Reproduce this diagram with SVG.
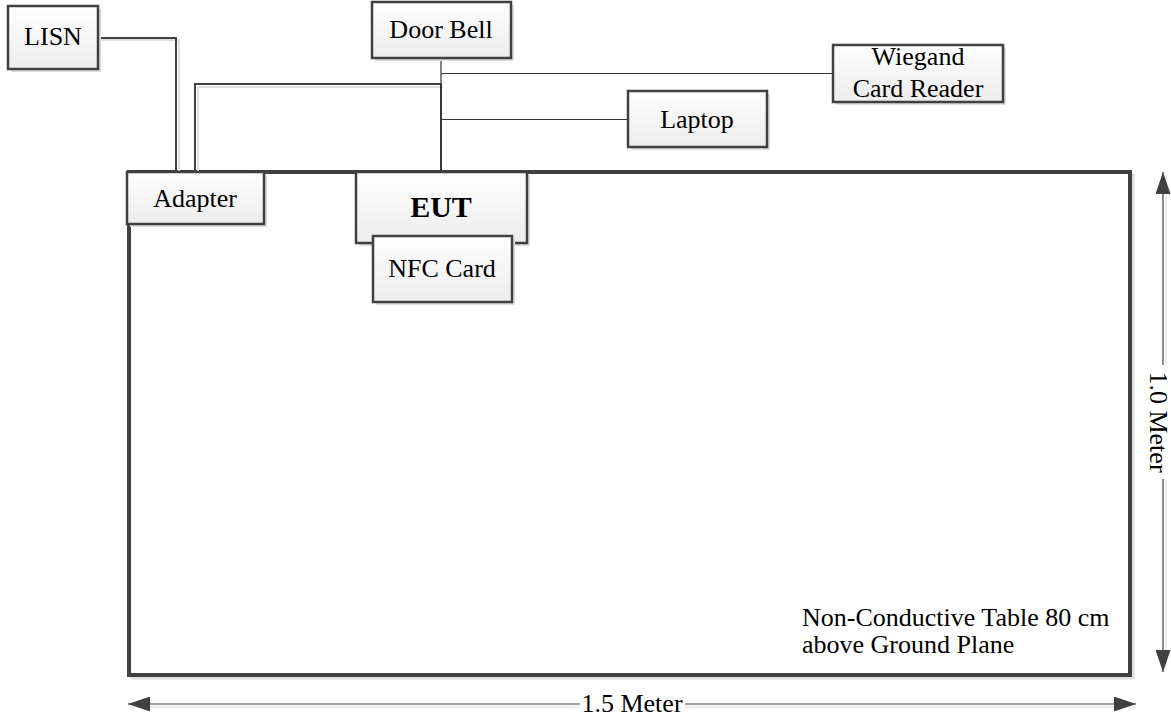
<svg xmlns="http://www.w3.org/2000/svg" width="1171" height="719" viewBox="0 0 1171 719">
<style>
.box{fill:url(#g);stroke:#404040;stroke-width:2.5}
.sh{fill:#dedede}
.t{font-family:"Liberation Serif","Times New Roman",serif;font-size:26px;fill:#000;text-anchor:middle}
.l{text-anchor:start}
.w{fill:none;stroke:#404040;stroke-width:2}
.ws{fill:none;stroke:#e0e0e0;stroke-width:2}
.thin{fill:none;stroke:#333333;stroke-width:1.2}
.dim{fill:none;stroke:#404040;stroke-width:1.2}
.dims{fill:none;stroke:#e6e6e6;stroke-width:1.5}
</style>
<defs>
<linearGradient id="g" x1="0" y1="0" x2="0" y2="1"><stop offset="0" stop-color="#ffffff"/><stop offset="1" stop-color="#ececec"/></linearGradient>
<marker id="ah" viewBox="0 0 22 15" refX="22" refY="7.5" markerWidth="22" markerHeight="15" markerUnits="userSpaceOnUse" orient="auto-start-reverse"><path d="M0,0 L22,7.5 L0,15 z" fill="#404040"/></marker>
</defs>
<rect x="0" y="0" width="1171" height="719" fill="#fff"/>
<g id="table">
<rect x="132" y="175" width="1001" height="503" fill="none" stroke="#dedede" stroke-width="3"/>
<rect x="129" y="172" width="1001" height="503" fill="#fff" stroke="#404040" stroke-width="4"/>
<text class="t l" x="802" y="626">Non-Conductive Table 80 cm</text>
<text class="t l" x="802" y="653">above Ground Plane</text>
</g>
<g id="connectors">
<path class="ws" d="M100,40 H179 V172"/>
<path class="w" d="M98,38 H176 V172"/>
<path class="ws" d="M198,172 V87 H443"/>
<path class="w" d="M195,172 V84 H441 V172"/>
<path class="thin" d="M441,58 V172"/>
<path class="thin" d="M441,73.5 H833"/>
<path class="thin" d="M441,119.5 H628"/>
</g>
<g id="lisn">
<rect class="sh" x="11" y="9" width="90" height="63"/>
<rect class="box" x="8" y="6" width="90" height="63"/>
<text class="t" x="53" y="45">LISN</text>
</g>
<g id="doorbell">
<rect class="sh" x="375" y="5" width="139" height="56"/>
<rect class="box" x="372" y="2" width="139" height="56"/>
<text class="t" x="441" y="38">Door Bell</text>
</g>
<g id="wiegand">
<rect class="sh" x="836" y="48" width="170" height="57"/>
<rect class="box" x="833" y="45" width="170" height="57"/>
<text class="t" x="918" y="65">Wiegand</text>
<text class="t" x="918" y="97">Card Reader</text>
</g>
<g id="laptop">
<rect class="sh" x="631" y="94" width="139" height="56"/>
<rect class="box" x="628" y="91" width="139" height="56"/>
<text class="t" x="697" y="128">Laptop</text>
</g>
<g id="adapter">
<rect class="sh" x="130" y="175" width="137" height="52"/>
<rect class="box" x="127" y="172" width="137" height="52"/>
<text class="t" x="195" y="207">Adapter</text>
</g>
<g id="eut">
<rect class="sh" x="359" y="175" width="171" height="71"/>
<rect class="box" x="356" y="172" width="171" height="71"/>
<text class="t" x="441" y="217" style="font-weight:bold;font-size:30px">EUT</text>
</g>
<g id="nfc">
<rect class="sh" x="376" y="239" width="139" height="66"/>
<rect class="box" x="373" y="236" width="139" height="66"/>
<text class="t" x="442" y="277">NFC Card</text>
</g>
<g id="dimensions">
<path class="dims" d="M130,707 H580 M685,707 H1136 M1166,174 V365 M1166,479 V670"/>
<path d="M128,704 H580" class="dim" marker-start="url(#ah)"/>
<path d="M685,704 H1136" class="dim" marker-end="url(#ah)"/>
<text class="t" x="632" y="712">1.5 Meter</text>
<path d="M1163,172 V365" class="dim" marker-start="url(#ah)"/>
<path d="M1163,479 V672" class="dim" marker-end="url(#ah)"/>
<text class="t" transform="translate(1150,422) rotate(90)">1.0 Meter</text>
</g>
</svg>
